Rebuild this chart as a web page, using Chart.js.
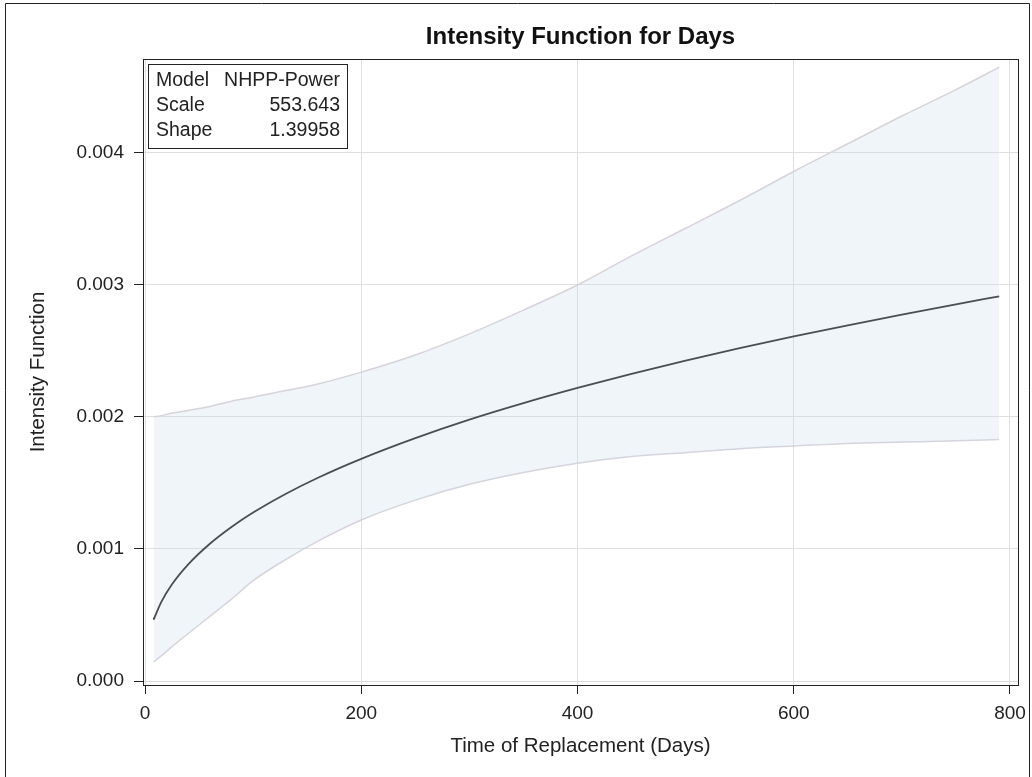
<!DOCTYPE html>
<html>
<head>
<meta charset="utf-8">
<script src="https://cdn.jsdelivr.net/npm/chart.js@4.4.1/dist/chart.umd.min.js"></script>
<style>
  html, body { margin: 0; padding: 0; background: #fff; }
  #wrap { width: 1032px; height: 777px; }
</style>
</head>
<body>
<div id="wrap"><canvas id="c" width="1032" height="777"></canvas></div>
<script>
// values
var days = [8, 15, 25, 40, 60, 80, 100, 130, 160, 200, 250, 300, 350, 400, 450, 500, 550, 600, 650, 700, 750, 790];
var intensity = [0.000465, 0.000598, 0.000733, 0.000884, 0.00104, 0.001167, 0.001276, 0.001417, 0.00154, 0.001683, 0.00184,
  0.00198, 0.002105, 0.00222, 0.002327, 0.002427, 0.002521, 0.002611, 0.002695, 0.002776, 0.002854, 0.002914];
var upper = [0.00200, 0.00201, 0.00203, 0.00205, 0.00208, 0.00212, 0.00215, 0.00220, 0.00225, 0.00234, 0.00247,
  0.00263, 0.00281, 0.00300, 0.00322, 0.00343, 0.00364, 0.00386, 0.00407, 0.00428, 0.00448, 0.00465];
var lower = [0.000144, 0.00019, 0.00026, 0.00036, 0.00049, 0.00062, 0.00076, 0.00092, 0.00106, 0.00122, 0.00137,
  0.00149, 0.00158, 0.00165, 0.0017, 0.00173, 0.00176, 0.00178, 0.0018, 0.00181, 0.00182, 0.00183];
var xTicks = [0, 200, 400, 600, 800];
var yTicks = [0, 0.001, 0.002, 0.003, 0.004];
var insetLabels = ['Model', 'Scale', 'Shape'];
var insetValues = ['NHPP-Power', '553.643', '1.39958'];
var chartTitle = 'Intensity Function for Days';

var FONT = "'Liberation Sans', Arial, sans-serif";

function pts(ys) {
  return days.map(function (d, i) { return { x: d, y: ys[i] }; });
}

var frame = {
  id: 'frame',
  beforeDraw: function (chart) {
    var ctx = chart.ctx;
    ctx.save();
    ctx.fillStyle = '#fff';
    ctx.fillRect(0, 0, chart.width, chart.height);
    ctx.strokeStyle = '#222';
    ctx.lineWidth = 1;
    ctx.beginPath();
    ctx.moveTo(5.5, 777);
    ctx.lineTo(5.5, 3.5);
    ctx.lineTo(1029.5, 3.5);
    ctx.lineTo(1029.5, 777);
    ctx.stroke();
    ctx.restore();
  },
  afterDraw: function (chart) {
    var ctx = chart.ctx, a = chart.chartArea;
    ctx.save();
    ctx.strokeStyle = '#222';
    ctx.lineWidth = 1;
    ctx.strokeRect(Math.round(a.left) + 0.5, Math.round(a.top) + 0.5, Math.round(a.right - a.left), Math.round(a.bottom - a.top));
    // title, centred over the plot area
    ctx.fillStyle = '#111';
    ctx.font = 'bold 24px ' + FONT;
    ctx.textAlign = 'center';
    ctx.textBaseline = 'middle';
    ctx.fillText(chartTitle, (a.left + a.right) / 2, 37);
    // inset table
    var bx = 148, by = 64, bw = 199, bh = 84;
    ctx.fillStyle = '#fff';
    ctx.fillRect(bx, by, bw, bh);
    ctx.strokeRect(bx + 0.5, by + 0.5, bw, bh);
    ctx.fillStyle = '#222';
    ctx.font = '19.5px ' + FONT;
    for (var i = 0; i < insetLabels.length; i++) {
      var y = by + 17 + i * 25;
      ctx.textAlign = 'left';
      ctx.fillText(insetLabels[i], bx + 8, y);
      ctx.textAlign = 'right';
      ctx.fillText(insetValues[i], bx + bw - 7, y);
    }
    ctx.restore();
  }
};

new Chart(document.getElementById('c').getContext('2d'), {
  type: 'line',
  data: {
    datasets: [{
      label: 'Upper',
      data: pts(upper),
      borderColor: '#d6d3da',
      borderWidth: 1.5,
      backgroundColor: 'rgba(205, 221, 240, 0.3)',
      fill: '+1',
      pointRadius: 0,
      cubicInterpolationMode: 'monotone'
    }, {
      label: 'Lower',
      data: pts(lower),
      borderColor: '#d6d3da',
      borderWidth: 1.5,
      fill: false,
      pointRadius: 0,
      cubicInterpolationMode: 'monotone'
    }, {
      label: 'Intensity',
      data: pts(intensity),
      borderColor: '#111',
      borderWidth: 1.8,
      fill: false,
      pointRadius: 0,
      cubicInterpolationMode: 'monotone'
    }]
  },
  options: {
    responsive: false,
    animation: false,
    layout: { padding: { left: 0, right: 14, top: 59, bottom: 0 } },
    plugins: {
      legend: { display: false },
      tooltip: { enabled: false },
      title: { display: false }
    },
    scales: {
      x: {
        type: 'linear',
        min: -1.85,
        max: 807.4,
        afterBuildTicks: function (s) { s.ticks = xTicks.map(function (v) { return { value: v }; }); },
        afterFit: function (s) { s.height = 92; s.paddingLeft = 0; s.paddingRight = 0; },
        ticks: { color: '#222', padding: 8, maxRotation: 0,
          font: { family: FONT, size: 19 } },
        grid: { color: '#dedede', tickColor: '#222', tickLength: 9 },
        border: { color: '#222' },
        title: { display: true, text: 'Time of Replacement (Days)', color: '#222',
          font: { family: FONT, size: 20.5 }, padding: { top: 18, bottom: 18 } }
      },
      y: {
        min: -0.0000303,
        max: 0.0047121,
        afterBuildTicks: function (s) { s.ticks = yTicks.map(function (v) { return { value: v }; }); },
        afterFit: function (s) { s.width = 143; s.paddingTop = 0; s.paddingBottom = 0; },
        ticks: { color: '#222', padding: 10,
          font: { family: FONT, size: 19 },
          callback: function (v) { return v.toFixed(3); } },
        grid: { color: '#dedede', tickColor: '#222', tickLength: 9 },
        border: { color: '#222' },
        title: { display: true, text: 'Intensity Function', color: '#222',
          font: { family: FONT, size: 20.5 }, padding: { top: 26, bottom: 26 } }
      }
    }
  },
  plugins: [frame]
});
</script>
</body>
</html>
